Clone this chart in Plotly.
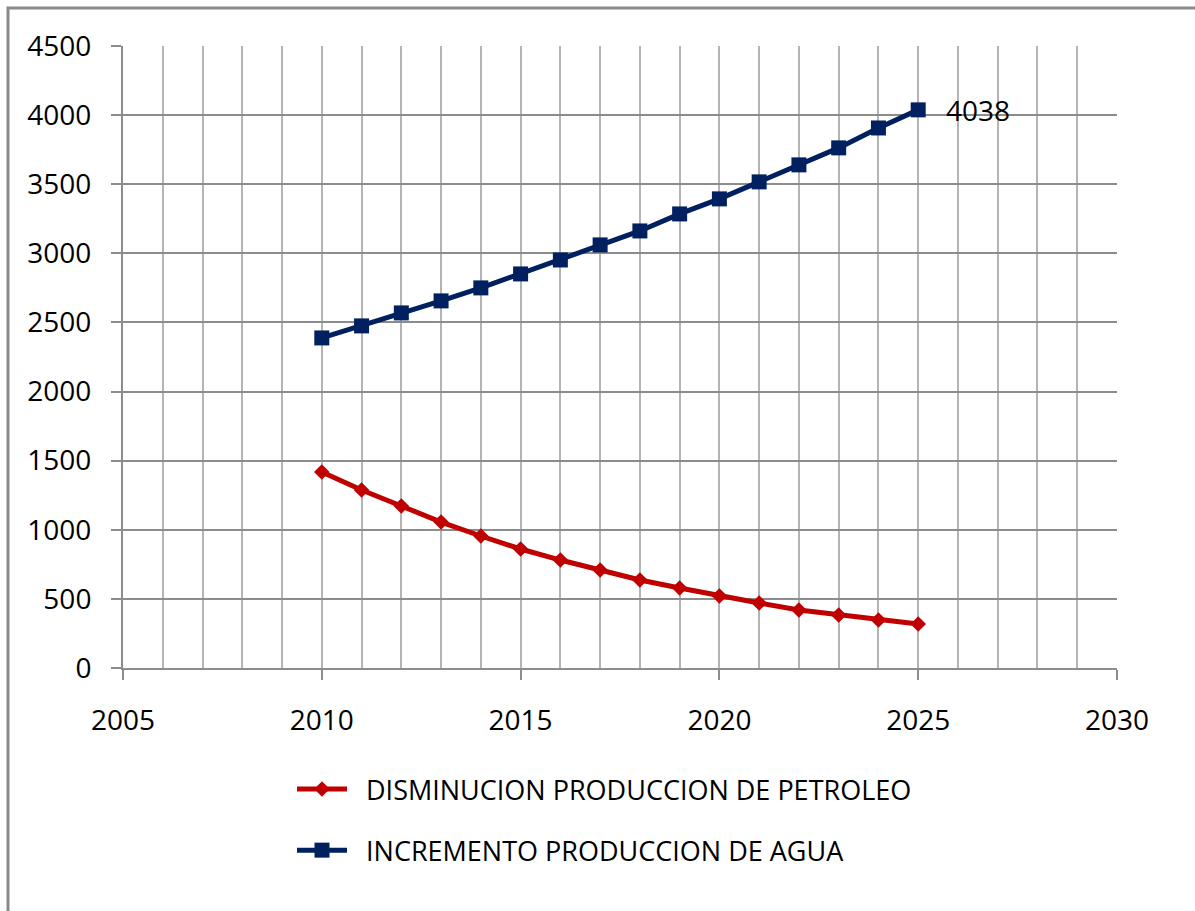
import plotly.graph_objects as go

# Years and production series
years = list(range(2010, 2026))
petroleo = [1418, 1288, 1172, 1056, 955, 861, 781, 709, 637, 579, 521, 470, 420, 383, 347, 318]
agua = [2388, 2475, 2569, 2656, 2750, 2851, 2952, 3061, 3162, 3285, 3394, 3517, 3640, 3763, 3907, 4038]

name_petroleo = "DISMINUCION PRODUCCION DE PETROLEO"
name_agua = "INCREMENTO PRODUCCION DE AGUA"

FONT = "Open Sans, sans-serif"
RED = "#C00000"
NAVY = "#002060"
GRID_H = "#8c8c8c"
GRID_V = "#b4b4b4"
GAP = "\u00a0\u00a0"

fig = go.Figure()
fig.add_trace(go.Scatter(
    x=years, y=petroleo, name=GAP + name_petroleo, mode="lines+markers", legendgroup="p",
    line=dict(color=RED, width=5), marker=dict(symbol="diamond", size=12, color=RED),
))
fig.add_trace(go.Scatter(
    x=years, y=agua, name=GAP + name_agua, mode="lines+markers", legendgroup="a",
    line=dict(color=NAVY, width=5), marker=dict(symbol="square", size=15, color=NAVY),
))

# Value label on the last water point
fig.add_annotation(
    x=years[-1], y=agua[-1], text=str(agua[-1]), showarrow=False,
    xanchor="left", yanchor="middle", xshift=26,
    font=dict(family=FONT, size=28, color="#000"),
)

W, H = 1195, 911
L, R, T, B = 123, 78, 46, 243
pw, ph = W - L - R, H - T - B

def px_x(p):
    return (p - L) / pw

def px_y(p):
    return 1 - (p - T) / ph

# Outer chart-area frame
fig.add_shape(type="rect", xref="paper", yref="paper",
              x0=px_x(8), y0=px_y(W + 20), x1=px_x(W + 20), y1=px_y(8),
              line=dict(color="#8a8a8a", width=3), fillcolor="rgba(0,0,0,0)", layer="below")

fig.update_layout(
    width=W, height=H,
    margin=dict(l=L, r=R, t=T, b=B, autoexpand=False),
    paper_bgcolor="white", plot_bgcolor="white",
    font=dict(family=FONT, size=28, color="#000"),
    showlegend=True,
    legend=dict(
        x=px_x(292), y=px_y(765), xanchor="left", yanchor="top",
        font=dict(family=FONT, size=27, color="#000"),
        tracegroupgap=23, itemwidth=50, bgcolor="rgba(0,0,0,0)",
    ),
)

fig.update_xaxes(
    range=[2005, 2030], tickmode="linear", tick0=2005, dtick=5,
    showgrid=True, gridcolor=GRID_V, gridwidth=2,
    minor=dict(dtick=1, tick0=2005, showgrid=True, gridcolor=GRID_V, gridwidth=1.5),
    showline=True, linecolor=GRID_H, linewidth=2,
    ticks="outside", ticklen=10, tickcolor=GRID_H, tickwidth=2,
    ticklabelstandoff=16, zeroline=False,
)
fig.update_yaxes(
    range=[0, 4500], tickmode="linear", tick0=0, dtick=500,
    showgrid=True, gridcolor=GRID_H, gridwidth=2,
    showline=True, linecolor=GRID_H, linewidth=2,
    ticks="outside", ticklen=10, tickcolor=GRID_H, tickwidth=2,
    ticklabelstandoff=14, zeroline=False,
)

fig.write_html("out.html")
